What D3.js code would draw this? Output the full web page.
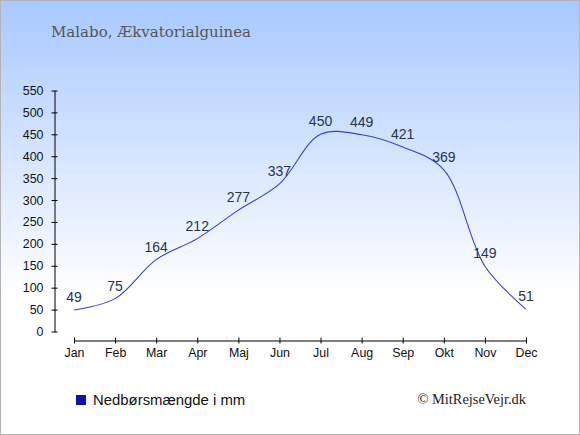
<!DOCTYPE html>
<html>
<head>
<meta charset="utf-8">
<script src="https://cdn.jsdelivr.net/npm/d3@7"></script>
<style>
  html, body { margin: 0; padding: 0; }
  svg { display: block; }
</style>
</head>
<body>
<script>
// Malabo precipitation per month
var months = ['Jan', 'Feb', 'Mar', 'Apr', 'Maj', 'Jun', 'Jul', 'Aug', 'Sep', 'Okt', 'Nov', 'Dec'];
var rain = [49, 75, 164, 212, 277, 337, 450, 449, 421, 369, 149, 51];
var yTicks = [0, 50, 100, 150, 200, 250, 300, 350, 400, 450, 500, 550];

var title = 'Malabo, Ækvatorialguinea';
var legendText = 'Nedbørsmængde i mm';
var credit = '© MitRejseVejr.dk';

var W = 580, H = 435;

var svg = d3.select('body').append('svg').attr('width', W).attr('height', H);

var grad = svg.append('defs').append('linearGradient')
  .attr('id', 'bg').attr('x1', 0).attr('y1', 0).attr('x2', 0).attr('y2', 1);
grad.append('stop').attr('offset', '0').attr('stop-color', '#a8c8ff');
grad.append('stop').attr('offset', '0.68').attr('stop-color', '#ffffff');
grad.append('stop').attr('offset', '1').attr('stop-color', '#ffffff');

svg.append('rect').attr('x', 0.5).attr('y', 0.5).attr('width', W - 1).attr('height', H - 1)
  .attr('fill', 'url(#bg)').attr('stroke', '#b4b4b4').attr('stroke-width', 1);

svg.append('text').attr('x', 51).attr('y', 37)
  .attr('font-family', '"DejaVu Serif", serif').attr('font-size', 15)
  .attr('fill', '#555').text(title);

var x = d3.scalePoint().domain(months).range([74, 526]);
var y = d3.scaleLinear().domain([0, 550]).range([331.5, 90.5]);

// y axis
var gy = svg.append('g').attr('transform', 'translate(54.5,0)')
  .call(d3.axisLeft(y).tickValues(yTicks).tickSizeOuter(0).tickSizeInner(3).tickPadding(8));
gy.selectAll('.tick line').attr('x1', -3).attr('x2', 3);

// x axis
var gx = svg.append('g').attr('transform', 'translate(0,340.5)')
  .call(d3.axisBottom(x).tickSizeOuter(0).tickSizeInner(3).tickPadding(5));
gx.selectAll('.tick line').attr('y1', -3).attr('y2', 3);

[gx, gy].forEach(function (g) {
  g.select('.domain').attr('stroke', '#000');
  g.selectAll('.tick line').attr('stroke', '#000');
  g.selectAll('.tick text').attr('font-family', '"Liberation Sans", Arial, sans-serif')
    .attr('font-size', 12.4).attr('fill', '#111');
});

var line = d3.line()
  .x(function (d, i) { return x(months[i]); })
  .y(function (d) { return y(d); })
  .curve(d3.curveCatmullRom.alpha(0.5));

svg.append('path').datum(rain).attr('d', line)
  .attr('fill', 'none').attr('stroke', '#3a40c8').attr('stroke-width', 1.1);

svg.append('g').selectAll('text').data(rain).enter().append('text')
  .attr('x', function (d, i) { return x(months[i]); })
  .attr('y', function (d) { return y(d) - 8; })
  .attr('text-anchor', 'middle')
  .attr('font-family', '"Liberation Sans", Arial, sans-serif').attr('font-size', 14)
  .attr('fill', '#243452')
  .text(function (d) { return d; });

// legend
svg.append('rect').attr('x', 76).attr('y', 395).attr('width', 10).attr('height', 10).attr('fill', '#0a14aa');
svg.append('text').attr('x', 93).attr('y', 405)
  .attr('font-family', '"Liberation Sans", Arial, sans-serif').attr('font-size', 14.9)
  .attr('fill', '#111').text(legendText);

svg.append('text').attr('x', 526).attr('y', 404).attr('text-anchor', 'end')
  .attr('font-family', '"Liberation Serif", "Times New Roman", serif').attr('font-size', 14.4)
  .attr('fill', '#222').text(credit);
</script>
</body>
</html>
